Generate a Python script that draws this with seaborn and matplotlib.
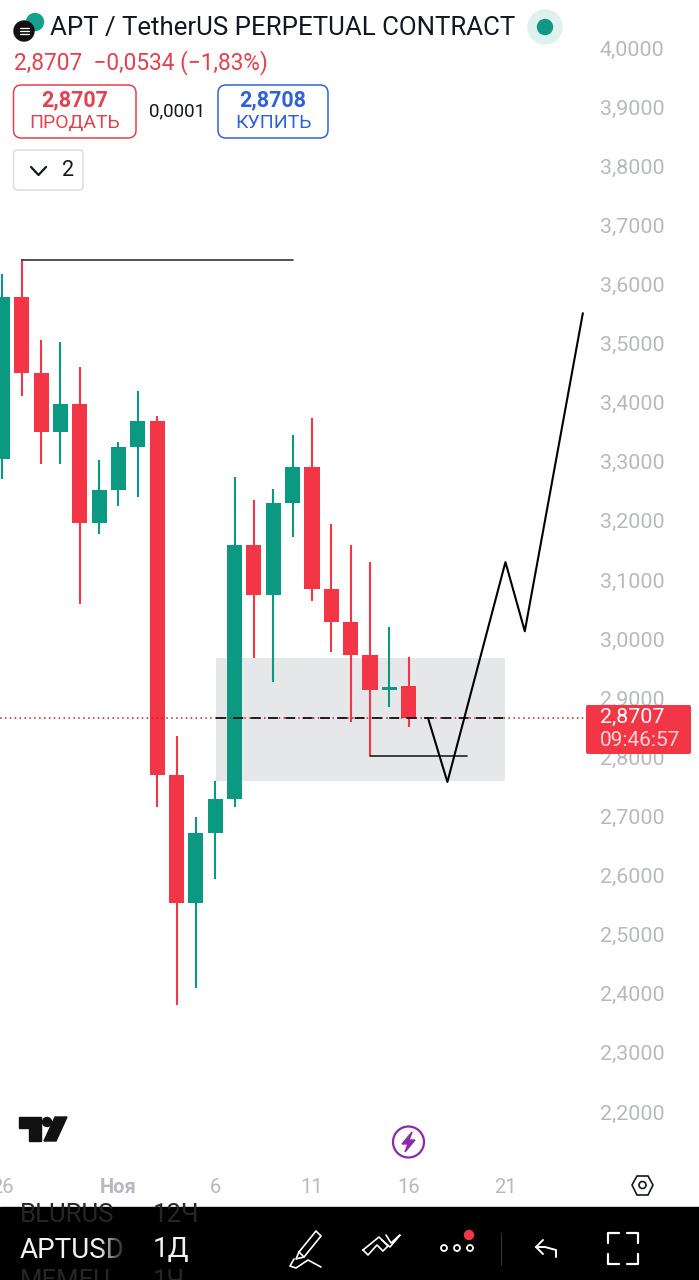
import numpy as np
import pandas as pd
import matplotlib
matplotlib.use("Agg")
import matplotlib.pyplot as plt
from matplotlib.patches import Circle, FancyBboxPatch, Polygon, Rectangle
from matplotlib.transforms import ScaledTranslation
import seaborn as sns

# daily candles, day 0 = 1 Nov
days = [-6, -5, -4, -3, -2, -1, 0, 1, 2, 3, 4, 5, 6, 7, 8, 9, 10, 11, 12, 13, 14, 15]
opens = [3.306, 3.580, 3.452, 3.352, 3.399, 3.198, 3.254, 3.327, 3.371, 2.772, 2.555, 2.674,
         2.731, 3.161, 3.076, 3.232, 3.293, 3.086, 3.031, 2.975, 2.916, 2.922]
highs = [3.619, 3.645, 3.508, 3.504, 3.462, 3.305, 3.335, 3.421, 3.379, 2.838, 2.701, 2.762,
         3.276, 3.237, 3.256, 3.347, 3.376, 3.196, 3.161, 3.132, 3.022, 2.971]
lows = [3.273, 3.413, 3.298, 3.298, 3.061, 3.180, 3.227, 3.242, 2.718, 2.383, 2.411, 2.596,
        2.718, 2.970, 2.929, 3.174, 3.066, 2.980, 2.861, 2.804, 2.887, 2.853]
closes = [3.580, 3.452, 3.352, 3.399, 3.198, 3.254, 3.327, 3.371, 2.772, 2.555, 2.674, 2.731,
          3.161, 3.076, 3.232, 3.293, 3.086, 3.031, 2.975, 2.916, 2.921, 2.868]

price_ticks = [2.2, 2.3, 2.4, 2.5, 2.6, 2.7, 2.8, 2.9, 3.0, 3.1, 3.2, 3.3, 3.4, 3.5, 3.6, 3.7, 3.8, 3.9, 4.0]
day_ticks = [-6, 0, 5, 10, 15, 20]
day_labels = ["26", "Ноя", "6", "11", "16", "21"]

path_days = [16, 17, 20, 21, 24]
path_prices = [2.868, 2.760, 3.132, 3.015, 3.553]
top_line_days = [-5, 9]
top_line_price = 3.643
low_line_days = [13, 18]
low_line_price = 2.804
zone_days = [5.05, 20]
zone_prices = [2.762, 2.970]
last_price = 2.868

RED = "#F23645"
GREEN = "#0B9981"
GREY = "#B7B9C0"
FONT = "Roboto"

sns.set_theme(style="white")
plt.rcParams["font.family"] = [FONT, "DejaVu Sans"]

df = pd.DataFrame({"day": days, "open": opens, "high": highs, "low": lows, "close": closes})
df["up"] = df["close"] > df["open"]
df["bottom"] = df[["open", "close"]].min(axis=1)
df["body"] = (df["close"] - df["open"]).abs()

fig = plt.figure(figsize=(6.99, 12.80), dpi=100, facecolor="white")
W, H = 699, 1280
ax = fig.add_axes([0, (H - 1170) / H, 590 / W, 1170 / H])
ax.set_facecolor("white")

# zone goes under everything
ax.fill_between(zone_days, zone_prices[0], zone_prices[1], color="#E6E7E9", lw=0, zorder=0)

for up, color in [(True, GREEN), (False, RED)]:
    part = df[df["up"] == up]
    ax.vlines(part["day"], part["low"], part["high"], color=color, lw=1.5, zorder=2)
    sns.barplot(data=part, x="day", y="body", bottom=part["bottom"].values, native_scale=True,
                color=color, saturation=1, width=0.78, linewidth=0, errorbar=None, ax=ax, zorder=3)

ax.axhline(last_price, color="#C2202F", lw=1.1, ls=(0, (1, 2.2)), zorder=4)
ax.hlines(last_price, zone_days[0], zone_days[1], color="#111111", lw=1.3,
          linestyles=[(0, (5.5, 4.1))], zorder=4)
sns.lineplot(x=top_line_days, y=[top_line_price, top_line_price], color="#333333", lw=1.2, ax=ax, zorder=4)
sns.lineplot(x=low_line_days, y=[low_line_price, low_line_price], color="#222222", lw=1.2, ax=ax, zorder=4)
sns.lineplot(x=path_days, y=path_prices, sort=False, estimator=None, color="black", lw=1.5, ax=ax, zorder=5)

ax.set_xlim(-6.124, 24.37)
ax.set_ylim(2.1035, 4.0829)
ax.set_xlabel("")
ax.set_ylabel("")
ax.yaxis.tick_right()
ax.set_yticks(price_ticks)
ax.set_yticklabels([f"{p:.4f}".replace(".", ",") for p in price_ticks], fontsize=15.4, color=GREY)
ax.set_xticks(day_ticks)
ax.set_xticklabels(day_labels, fontsize=14.5, color=GREY)
ax.get_xticklabels()[1].set_fontweight("bold")
ax.tick_params(axis="y", length=0, pad=7)
ax.tick_params(axis="x", length=0, pad=6)
nudge = ScaledTranslation(0, 1 / 100, fig.dpi_scale_trans)
for lab in ax.get_yticklabels():
    lab.set_transform(lab.get_transform() + nudge)
sns.despine(ax=ax, left=True, right=True, top=True, bottom=True)

# app furniture, in screen pixels
ui = fig.add_axes([0, 0, 1, 1], facecolor="none")
ui.set_xlim(0, W)
ui.set_ylim(H, 0)
ui.axis("off")


def box(x0, y0, x1, y1, ec="none", fc="none", lw=1.0, r=8):
    ui.add_patch(FancyBboxPatch((x0 + r, y0 + r), x1 - x0 - 2 * r, y1 - y0 - 2 * r,
                                boxstyle=f"round,pad={r},rounding_size={r}", ec=ec, fc=fc, lw=lw))


def line(xs, ys, color="black", lw=1.5):
    ui.plot(xs, ys, color=color, lw=lw, solid_capstyle="round", solid_joinstyle="round")


# header
ui.add_patch(Circle((35, 22), 8.5, color="#14A08B"))
ui.add_patch(Circle((24, 31), 10, color="#111111"))
for dy in (-3, 0, 3):
    line([19.5, 28.5], [31 + dy, 31 + dy], color="white", lw=0.9)
ui.text(50, 28, "APT / TetherUS PERPETUAL CONTRACT", fontsize=18.6, color="#131722", va="center")
ui.add_patch(Circle((545, 27), 17, color="#DFF1EE"))
ui.add_patch(Circle((545, 27), 7.5, color="#0F9983"))
ui.text(14, 63, "2,8707  −0,0534 (−1,83%)", fontsize=16.3, color="#E5404F", va="center")

box(13.5, 85, 136, 138, ec="#E2414F", fc="white", lw=1.1)
ui.text(74.5, 100, "2,8707", fontsize=15.5, color="#E2414F", fontweight="bold", ha="center", va="center")
ui.text(74.5, 123, "ПРОДАТЬ", fontsize=14, color="#E2414F", ha="center", va="center")
ui.text(177, 111, "0,0001", fontsize=13.5, color="#131722", ha="center", va="center")
box(218, 85, 328, 138, ec="#2F62D9", fc="white", lw=1.1)
ui.text(273, 100, "2,8708", fontsize=15.5, color="#2F62D9", fontweight="bold", ha="center", va="center")
ui.text(273, 123, "КУПИТЬ", fontsize=14, color="#2F62D9", ha="center", va="center")

box(13.5, 150, 83, 190, ec="#DADCE0", fc="white", lw=1.1, r=4)
line([31, 38.5, 46], [167, 175, 167], color="#131722", lw=1.6)
ui.text(68, 170, "2", fontsize=15.5, color="#131722", ha="center", va="center")

# last price tag
box(586, 705, 691, 754, fc=RED, r=2)
ui.text(600, 717, "2,8707", fontsize=15.4, color="white", va="center")
ui.text(600, 740, "09:46:57", fontsize=15, color="#FBD5D9", va="center")

# logo
ui.add_patch(Polygon([(19, 1117), (41, 1117), (41, 1141), (29, 1141), (29, 1128), (19, 1128)], color="#111111"))
ui.add_patch(Circle((47, 1122), 4.5, color="#111111"))
ui.add_patch(Polygon([(55, 1117), (67, 1117), (56, 1141), (44, 1141)], color="#111111"))

# lightning badge
ui.add_patch(Circle((408.5, 1142), 15.5, fc="white", ec="#8E2AA8", lw=1.6))
ui.add_patch(Polygon([(412, 1132), (402, 1144), (408, 1144), (405, 1152), (415, 1140), (409, 1140)], color="#8E2AA8"))

# settings hexagon
ui.add_patch(Polygon([(632, 1185), (637, 1176), (648, 1176), (653, 1185), (648, 1195), (637, 1195)],
                     fc="none", ec="#131722", lw=1.2))
ui.add_patch(Circle((642.5, 1185), 3.5, fc="none", ec="#131722", lw=1.2))

# bottom toolbar
bar = Rectangle((0, 1207), W, H - 1207, color="black")
ui.add_patch(bar)
for tx, ty, s in [(20, 1215, "BLURUS"), (153, 1215, "12Ч"), (20, 1281, "MEMEU"), (153, 1281, "1Ч")]:
    t = ui.text(tx, ty, s, fontsize=18.5, color="#262626", va="center")
    t.set_clip_path(bar)
ui.text(20, 1250, "APTUSD", fontsize=20, color="#F2F2F2", va="center")
# fade the end of the symbol name into the bar
fade = np.zeros((1, 40, 4))
fade[0, :, 3] = np.linspace(0, 1, 40)
ui.imshow(fade, extent=(98, 128, 1268, 1230), aspect="auto", zorder=5)
ui.text(153, 1250, "1Д", fontsize=20, color="#F2F2F2", va="center", zorder=6)
ui.set_xlim(0, W)
ui.set_ylim(H, 0)

# pen
line([299, 316, 321, 304, 299], [1252, 1231, 1236, 1257, 1252], color="white", lw=1.2)
line([299, 296, 304], [1252, 1259, 1257], color="white", lw=1.2)
line([294, 290, 296, 308, 321], [1259, 1266, 1268, 1260, 1267], color="white", lw=1.2)
# trend tool
line([363, 379, 388, 383, 377, 368, 363], [1250, 1237, 1246, 1251, 1245, 1255, 1250], color="white", lw=1.2)
line([382, 390, 395, 400, 391, 386], [1240, 1247, 1241, 1235, 1243, 1235], color="white", lw=1.2)
# more
for cx in (444, 457, 470):
    ui.add_patch(Circle((cx, 1248), 3, fc="none", ec="white", lw=1.3))
ui.add_patch(Circle((469, 1235), 4.5, color=RED))
line([501, 501], [1233, 1265], color="#333333", lw=0.8)
# undo
line([536, 545, 556, 556], [1247, 1247, 1250, 1257], color="white", lw=1.4)
line([543, 536, 543], [1240, 1247, 1254], color="white", lw=1.4)
# fullscreen
line([619, 608, 608], [1233, 1233, 1243], color="white", lw=1.6)
line([627, 638, 638], [1233, 1233, 1243], color="white", lw=1.6)
line([608, 608, 619], [1254, 1264, 1264], color="white", lw=1.6)
line([638, 638, 627], [1254, 1264, 1264], color="white", lw=1.6)

fig.savefig("out.png", dpi=100)
